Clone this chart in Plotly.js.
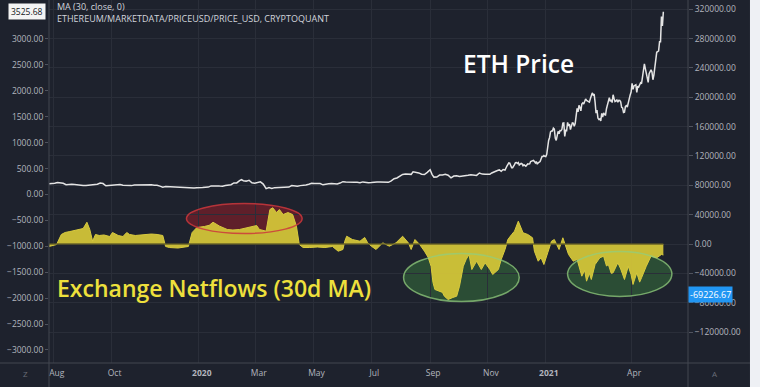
<!DOCTYPE html>
<html><head><meta charset="utf-8">
<script src="https://cdn.plot.ly/plotly-3.0.1.min.js"></script>
<style>html,body{margin:0;padding:0;background:#1e222d;overflow:hidden;} #chart{width:760px;height:387px;}</style>
</head><body><div id="chart"></div>
<script>
// ETH price (USD), left axis
const priceDates = ['2019-07-27','2019-07-30','2019-08-02','2019-08-05','2019-08-08','2019-08-11','2019-08-14','2019-08-17','2019-08-20','2019-08-23','2019-08-26','2019-08-29','2019-09-01','2019-09-04','2019-09-07','2019-09-10','2019-09-13','2019-09-16','2019-09-19','2019-09-22','2019-09-25','2019-09-28','2019-10-01','2019-10-04','2019-10-07','2019-10-10','2019-10-13','2019-10-16','2019-10-19','2019-10-22','2019-10-25','2019-10-28','2019-10-31','2019-11-03','2019-11-06','2019-11-09','2019-11-12','2019-11-15','2019-11-18','2019-11-21','2019-11-24','2019-11-27','2019-11-30','2019-12-03','2019-12-06','2019-12-09','2019-12-12','2019-12-15','2019-12-18','2019-12-21','2019-12-24','2019-12-27','2019-12-30','2020-01-02','2020-01-05','2020-01-08','2020-01-11','2020-01-14','2020-01-17','2020-01-20','2020-01-23','2020-01-26','2020-01-29','2020-02-01','2020-02-04','2020-02-07','2020-02-10','2020-02-13','2020-02-15','2020-02-17','2020-02-20','2020-02-23','2020-02-26','2020-02-29','2020-03-03','2020-03-06','2020-03-09','2020-03-12','2020-03-15','2020-03-18','2020-03-21','2020-03-24','2020-03-27','2020-03-30','2020-04-02','2020-04-05','2020-04-08','2020-04-11','2020-04-14','2020-04-17','2020-04-20','2020-04-23','2020-04-26','2020-04-29','2020-05-02','2020-05-05','2020-05-08','2020-05-11','2020-05-14','2020-05-17','2020-05-20','2020-05-23','2020-05-26','2020-05-29','2020-06-01','2020-06-04','2020-06-07','2020-06-10','2020-06-13','2020-06-16','2020-06-19','2020-06-22','2020-06-25','2020-06-28','2020-07-01','2020-07-04','2020-07-07','2020-07-10','2020-07-13','2020-07-16','2020-07-19','2020-07-22','2020-07-25','2020-07-28','2020-07-31','2020-08-03','2020-08-06','2020-08-09','2020-08-12','2020-08-14','2020-08-17','2020-08-20','2020-08-23','2020-08-26','2020-08-29','2020-09-01','2020-09-03','2020-09-05','2020-09-08','2020-09-11','2020-09-14','2020-09-17','2020-09-20','2020-09-23','2020-09-26','2020-09-29','2020-10-02','2020-10-05','2020-10-08','2020-10-11','2020-10-14','2020-10-17','2020-10-20','2020-10-23','2020-10-26','2020-10-29','2020-11-01','2020-11-03','2020-11-05','2020-11-07','2020-11-09','2020-11-11','2020-11-13','2020-11-15','2020-11-17','2020-11-19','2020-11-21','2020-11-23','2020-11-24','2020-11-25','2020-11-26','2020-11-27','2020-11-28','2020-11-29','2020-11-30','2020-12-01','2020-12-02','2020-12-03','2020-12-04','2020-12-05','2020-12-06','2020-12-07','2020-12-08','2020-12-09','2020-12-10','2020-12-11','2020-12-12','2020-12-13','2020-12-14','2020-12-15','2020-12-16','2020-12-17','2020-12-18','2020-12-19','2020-12-20','2020-12-21','2020-12-22','2020-12-23','2020-12-24','2020-12-25','2020-12-26','2020-12-27','2020-12-28','2020-12-29','2020-12-30','2020-12-31','2021-01-01','2021-01-02','2021-01-03','2021-01-04','2021-01-05','2021-01-06','2021-01-07','2021-01-08','2021-01-09','2021-01-10','2021-01-11','2021-01-12','2021-01-13','2021-01-14','2021-01-15','2021-01-16','2021-01-17','2021-01-18','2021-01-19','2021-01-20','2021-01-21','2021-01-22','2021-01-23','2021-01-24','2021-01-25','2021-01-26','2021-01-27','2021-01-28','2021-01-29','2021-01-30','2021-01-31','2021-02-01','2021-02-02','2021-02-03','2021-02-04','2021-02-05','2021-02-06','2021-02-07','2021-02-08','2021-02-09','2021-02-10','2021-02-11','2021-02-12','2021-02-13','2021-02-14','2021-02-15','2021-02-16','2021-02-17','2021-02-18','2021-02-19','2021-02-20','2021-02-21','2021-02-22','2021-02-23','2021-02-24','2021-02-25','2021-02-26','2021-02-27','2021-02-28','2021-03-01','2021-03-02','2021-03-03','2021-03-04','2021-03-05','2021-03-06','2021-03-07','2021-03-08','2021-03-09','2021-03-10','2021-03-11','2021-03-12','2021-03-13','2021-03-14','2021-03-15','2021-03-16','2021-03-17','2021-03-18','2021-03-19','2021-03-20','2021-03-21','2021-03-22','2021-03-23','2021-03-24','2021-03-25','2021-03-26','2021-03-27','2021-03-28','2021-03-29','2021-03-30','2021-03-31','2021-04-01','2021-04-02','2021-04-03','2021-04-04','2021-04-05','2021-04-06','2021-04-07','2021-04-08','2021-04-09','2021-04-10','2021-04-11','2021-04-12','2021-04-13','2021-04-14','2021-04-15','2021-04-16','2021-04-17','2021-04-18','2021-04-19','2021-04-20','2021-04-21','2021-04-22','2021-04-23','2021-04-24','2021-04-25','2021-04-26','2021-04-27','2021-04-28','2021-04-29','2021-04-30','2021-05-01','2021-05-02','2021-05-03','2021-05-04','2021-05-05'];
const priceValues = [206,210,218,233,220,215,187,197,197,194,187,169,172,174,178,180,181,197,220,211,168,174,176,175,180,191,180,175,172,171,181,184,183,182,191,187,187,180,178,161,141,155,151,147,149,148,145,141,132,129,128,127,131,127,135,141,142,165,170,166,162,161,175,183,189,223,223,268,285,266,258,274,225,218,224,244,201,112,133,114,132,136,132,132,141,143,172,158,157,171,171,185,197,215,212,205,212,186,203,207,210,208,202,220,247,243,244,247,238,234,228,243,232,228,230,229,240,242,240,232,235,262,305,318,346,386,394,392,388,437,429,416,392,385,428,477,388,335,337,374,377,389,371,320,355,360,346,353,351,371,381,368,368,414,393,388,396,388,415,435,444,463,474,448,482,471,549,608,604,568,517,517,538,575,615,616,598,616,570,596,601,591,554,573,559,546,568,590,586,589,636,642,654,658,638,610,635,584,612,626,635,683,731,731,751,737,730,775,979,1041,1100,1208,1225,1224,1281,1262,1090,1044,1130,1218,1171,1233,1230,1257,1377,1382,1121,1236,1233,1392,1324,1357,1253,1332,1382,1376,1314,1369,1515,1660,1594,1718,1677,1614,1746,1768,1744,1783,1843,1814,1804,1779,1781,1848,1937,1960,1919,1935,1781,1570,1626,1475,1446,1459,1417,1565,1492,1575,1541,1533,1655,1723,1834,1869,1795,1826,1772,1924,1854,1792,1806,1823,1782,1817,1813,1787,1681,1669,1582,1588,1700,1714,1687,1817,1846,1919,1977,2143,2028,2094,2107,2118,1971,2089,2072,2136,2156,2139,2299,2435,2520,2428,2343,2236,2162,2329,2365,2403,2363,2213,2303,2486,2662,2743,2755,2772,2946,2945,3431,3253,3525.68];

// Exchange netflows, 30d MA, right axis
const flowDates = ['2019-07-27','2019-08-04','2019-08-09','2019-08-13','2019-08-18','2019-08-23','2019-08-29','2019-09-01','2019-09-05','2019-09-08','2019-09-11','2019-09-14','2019-09-18','2019-09-23','2019-09-29','2019-10-02','2019-10-08','2019-10-13','2019-10-17','2019-10-20','2019-10-26','2019-10-31','2019-11-05','2019-11-12','2019-11-18','2019-11-24','2019-11-27','2019-12-01','2019-12-10','2019-12-17','2019-12-21','2019-12-25','2019-12-30','2020-01-07','2020-01-12','2020-01-16','2020-01-20','2020-01-23','2020-01-31','2020-02-06','2020-02-13','2020-02-21','2020-02-27','2020-03-02','2020-03-05','2020-03-12','2020-03-16','2020-03-19','2020-03-23','2020-03-26','2020-03-30','2020-04-04','2020-04-09','2020-04-13','2020-04-16','2020-04-20','2020-04-27','2020-05-05','2020-05-13','2020-05-21','2020-05-27','2020-06-01','2020-06-03','2020-06-05','2020-06-11','2020-06-19','2020-06-24','2020-06-27','2020-07-01','2020-07-06','2020-07-13','2020-07-20','2020-07-27','2020-08-03','2020-08-09','2020-08-12','2020-08-16','2020-08-21','2020-08-26','2020-08-30','2020-09-02','2020-09-04','2020-09-06','2020-09-11','2020-09-14','2020-09-16','2020-09-20','2020-09-25','2020-09-29','2020-10-02','2020-10-06','2020-10-09','2020-10-12','2020-10-15','2020-10-20','2020-10-25','2020-10-29','2020-11-03','2020-11-06','2020-11-12','2020-11-15','2020-11-19','2020-11-22','2020-11-26','2020-11-29','2020-12-03','2020-12-08','2020-12-13','2020-12-18','2020-12-20','2020-12-24','2020-12-27','2020-12-30','2021-01-03','2021-01-07','2021-01-10','2021-01-15','2021-01-19','2021-01-21','2021-01-25','2021-01-30','2021-02-03','2021-02-08','2021-02-11','2021-02-13','2021-02-16','2021-02-18','2021-02-22','2021-02-27','2021-03-03','2021-03-06','2021-03-08','2021-03-11','2021-03-13','2021-03-18','2021-03-21','2021-03-25','2021-03-29','2021-04-01','2021-04-03','2021-04-07','2021-04-10','2021-04-12','2021-04-15','2021-04-17','2021-04-22','2021-04-28','2021-05-03','2021-05-05'];
const flowValues = [-3400,-700,13000,15700,17000,18400,19800,21100,29700,19800,3800,13000,11600,12300,10200,15700,11600,10200,15700,13000,11600,12300,13000,13600,13000,11600,-3400,-4800,-5500,-4800,-3400,15700,22500,23900,25500,29700,26000,24300,19800,19100,19800,22500,23900,25200,19800,17500,47000,49400,42900,47000,40200,42900,40200,24300,-700,-4800,-4800,-4100,-4800,-3400,-9800,-7500,3800,10600,6100,3800,8900,2000,-3000,-7500,1600,-3000,1600,10600,1600,-7500,6100,-700,-9800,-18400,-30300,-52500,-62000,-64400,-66000,-71200,-75700,-72900,-71200,-57500,-30300,-21100,-14300,-34800,-23500,-34800,-25600,-34800,-41600,-34800,-21100,-7500,6100,13000,17500,31100,15300,13000,8500,-9800,-23500,-18800,-28000,-12000,3800,6100,-7500,8500,1600,-14300,-23500,-21100,-43900,-36000,-50700,-40000,-48400,-28000,-18800,-16600,-30000,-28000,-40000,-39300,-25600,-34000,-48400,-30300,-42000,-55200,-39300,-52000,-46100,-38000,-30300,-16600,-18800,-14300,-15000];

const xTickDates = ['2019-08-01','2019-10-01','2020-01-01','2020-03-01','2020-05-01','2020-07-01','2020-09-01','2020-11-01','2021-01-01','2021-04-01'];
const xTickLabels = ['Aug','Oct','<b>2020</b>','Mar','May','Jul','Sep','Nov','<b>2021</b>','Apr'];
const priceTicks = [-3000,-2500,-2000,-1500,-1000,-500,0,500,1000,1500,2000,2500,3000];
const flowTicks = [-120000,-80000,-40000,0,40000,80000,120000,160000,200000,240000,280000,320000];
const lastPrice = 3525.68;
const lastFlow = -69226.67;

const grey = '#b2b5be';
const traces = [
  {x: flowDates, y: flowValues, type:'scatter', mode:'lines', yaxis:'y2', fill:'tozeroy',
   line:{color:'#d8ca3e', width:1}, fillcolor:'rgba(210,196,56,0.95)', hoverinfo:'skip'},
  {x: priceDates, y: priceValues, type:'scatter', mode:'lines', yaxis:'y',
   line:{color:'#e4e4e4', width:1.5}, hoverinfo:'skip'}
];

const ellipseRed = {fill:'rgba(150,30,40,0.55)', line:'rgba(205,55,60,0.85)'};
const ellipseGreen = {fill:'rgba(60,130,65,0.45)', line:'rgba(145,205,125,0.75)'};
function ellipse(x0, x1, y0, y1, c, withFill) {
  return {type:'circle', xref:'x', yref:'y2', x0:x0, x1:x1, y0:y0, y1:y1,
    fillcolor: withFill ? c.fill : 'rgba(0,0,0,0)',
    line: withFill ? {width:0} : {color:c.line, width:1.5},
    layer: withFill ? 'below' : 'above'};
}
const ell = [
  ['2019-12-19','2020-04-19',14300,55200,ellipseRed],
  ['2020-08-04','2020-12-04',-78400,-13000,ellipseGreen],
  ['2021-01-24','2021-05-14',-71600,-10200,ellipseGreen]
];
const ellShapes = [];
ell.forEach(e => { ellShapes.push(ellipse(e[0],e[1],e[2],e[3],e[4],true)); ellShapes.push(ellipse(e[0],e[1],e[2],e[3],e[4],false)); });

const layout = {
  width:760, height:387,
  margin:{l:49, r:72, t:0, b:24, pad:0},
  paper_bgcolor:'#1e222d', plot_bgcolor:'#1e222d',
  showlegend:false,
  font:{family:'"Open Sans", sans-serif', color:grey, size:8.5},
  xaxis:{type:'date', range:['2019-07-27','2021-05-31'], tickmode:'array', tickvals:xTickDates, ticktext:xTickLabels,
    showgrid:true, gridcolor:'#2a2e39', gridwidth:1, ticks:'', showline:false, zeroline:false,
    tickfont:{size:8.5, color:grey}, ticklabelshift:3, ticklabelstandoff:3, fixedrange:true},
  yaxis:{range:[-3251,3752], tickmode:'array', tickvals:priceTicks, tickformat:'.2f', showgrid:false, zeroline:false,
    ticks:'outside', ticklen:3, tickcolor:'#50535e', showline:false, tickfont:{size:8.5, color:grey}, fixedrange:true},
  yaxis2:{overlaying:'y', side:'right', range:[-162260,332700], tickmode:'array', tickvals:flowTicks, tickformat:'.2f',
    showgrid:true, gridcolor:'#2a2e39', zeroline:false, ticks:'outside', ticklen:4, tickcolor:'#50535e',
    showline:false, tickfont:{size:8.5, color:grey}, fixedrange:true},
  shapes: ellShapes.concat([
    {type:'line', xref:'x', yref:'y2', x0:flowDates[0], x1:flowDates[flowDates.length-1], y0:0, y1:0,
     line:{color:'rgba(95,90,35,0.9)', width:1.5}, layer:'above'},
    {type:'line', xref:'paper', yref:'paper', x0:0, x1:0, y0:-0.07, y1:1, line:{color:'#434651', width:1}},
    {type:'line', xref:'paper', yref:'paper', x0:1, x1:1, y0:-0.07, y1:1, line:{color:'#434651', width:1}},
    {type:'line', xref:'paper', yref:'paper', x0:-0.08, x1:1.097, y0:0, y1:0, line:{color:'#434651', width:1}},
    {type:'rect', xref:'paper', yref:'paper', x0:1.097, x1:1.2, y0:-0.1, y1:1.1, fillcolor:'#eef0f4', line:{width:0}, layer:'above'}
  ]),
  annotations:[
    {xref:'paper', yref:'paper', x:0.0094, y:0.983, xanchor:'left', yanchor:'middle', showarrow:false,
     text:'MA (30, close, 0)', font:{size:9, color:'#d1d4dc'}},
    {xref:'paper', yref:'paper', x:0.0094, y:0.950, xanchor:'left', yanchor:'middle', showarrow:false,
     text:'ETHEREUM/MARKETDATA/PRICEUSD/PRICE_USD, CRYPTOQUANT', font:{size:9, color:'#d1d4dc'}},
    {xref:'paper', yref:'paper', x:0.734, y:0.826, xanchor:'center', yanchor:'middle', showarrow:false,
     text:'ETH Price', font:{size:24.5, color:'#ffffff', weight:600}},
    {xref:'paper', yref:'paper', x:0.0094, y:0.2066, xanchor:'left', yanchor:'middle', showarrow:false,
     text:'Exchange Netflows (30d MA)', font:{size:23, color:'#eee03c', weight:600}},
    {xref:'paper', yref:'y', x:0, y:lastPrice, xanchor:'right', yanchor:'middle', xshift:-3, showarrow:false,
     text:lastPrice.toFixed(2), bgcolor:'#f4f4f4', borderpad:2, font:{size:8.5, color:'#131722'}},
    {xref:'paper', yref:'y2', x:1, y:lastFlow, xanchor:'left', yanchor:'middle', showarrow:false,
     text:lastFlow.toFixed(2), bgcolor:'#2196f3', borderpad:1, font:{size:9, color:'#ffffff'}},
    {xref:'paper', yref:'paper', x:-0.036, y:-0.028, xanchor:'center', yanchor:'middle', showarrow:false,
     text:'Z', font:{size:8, color:'#6a6d78'}},
    {xref:'paper', yref:'paper', x:1.042, y:-0.028, xanchor:'center', yanchor:'middle', showarrow:false,
     text:'A', font:{size:8, color:'#6a6d78'}}
  ]
};

Plotly.newPlot('chart', traces, layout, {displayModeBar:false, staticPlot:true});
</script>
</body></html>
